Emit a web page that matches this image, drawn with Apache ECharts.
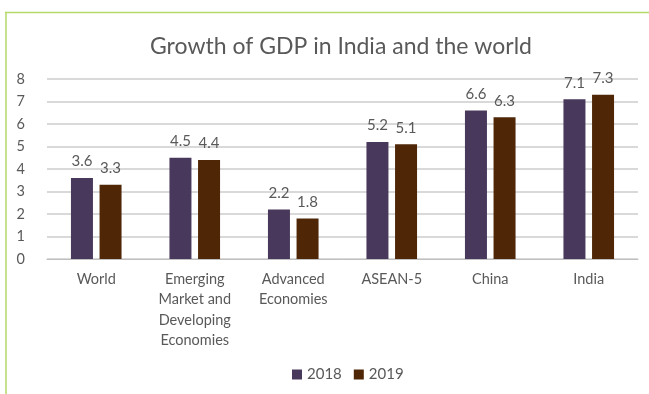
<!DOCTYPE html>
<html><head><meta charset="utf-8">
<script src="https://cdn.jsdelivr.net/npm/echarts@6/dist/echarts.min.js"></script>
<style>html,body{margin:0;padding:0;background:#fff;}#c{width:649px;height:394px;}</style>
</head><body><div id="c"></div>
<script>
const categories = ['World', 'Emerging\nMarket and\nDeveloping\nEconomies', 'Advanced\nEconomies', 'ASEAN-5', 'China', 'India'];
const values2018 = [3.6, 4.5, 2.2, 5.2, 6.6, 7.1];
const values2019 = [3.3, 4.4, 1.8, 5.1, 6.3, 7.3];
const yTicks = [0, 1, 2, 3, 4, 5, 6, 7, 8];

const font = 'Lato, "Open Sans", sans-serif';
const chart = echarts.init(document.getElementById('c'));
chart.setOption({
  animation: false,
  graphic: [
    { type: 'line', shape: { x1: 5, y1: 12.5, x2: 649, y2: 12.5 }, style: { stroke: '#b5d96a', lineWidth: 1.5 } },
    { type: 'line', shape: { x1: 6, y1: 12, x2: 6, y2: 394 }, style: { stroke: '#b5d96a', lineWidth: 1.5 } }
  ],
  title: {
    text: 'Growth of GDP in India and the world',
    left: 145, top: 30,
    textStyle: { fontFamily: font, fontSize: 23, fontWeight: 'normal', color: '#595959' }
  },
  legend: {
    bottom: 7, left: 287,
    itemWidth: 10, itemHeight: 10, itemGap: 12,
    icon: 'rect',
    textStyle: { fontFamily: font, fontSize: 15, color: '#595959' },
    data: ['2018', '2019']
  },
  grid: { left: 47, right: 11, top: 79, bottom: 135 },
  xAxis: {
    type: 'category', data: categories,
    axisTick: { show: false },
    axisLine: { lineStyle: { color: '#bfbfbf' } },
    axisLabel: { fontFamily: font, fontSize: 14.5, color: '#595959', margin: 10, lineHeight: 20.5, interval: 0 }
  },
  yAxis: {
    type: 'value', min: yTicks[0], max: yTicks[yTicks.length - 1], interval: 1,
    axisLine: { show: false }, axisTick: { show: false },
    splitLine: { lineStyle: { color: '#cccccc', width: 1.5 } },
    axisLabel: { fontFamily: font, fontSize: 14.5, color: '#595959', margin: 22 }
  },
  series: [
    { name: '2018', type: 'bar', data: values2018, barWidth: 22, barGap: '30%',
      itemStyle: { color: '#48385B' },
      label: { show: true, position: 'top', fontFamily: font, fontSize: 15, color: '#595959', distance: 9 } },
    { name: '2019', type: 'bar', data: values2019, barWidth: 22,
      itemStyle: { color: '#4F2606' },
      label: { show: true, position: 'top', fontFamily: font, fontSize: 15, color: '#595959', distance: 9 } }
  ]
});
</script></body></html>
